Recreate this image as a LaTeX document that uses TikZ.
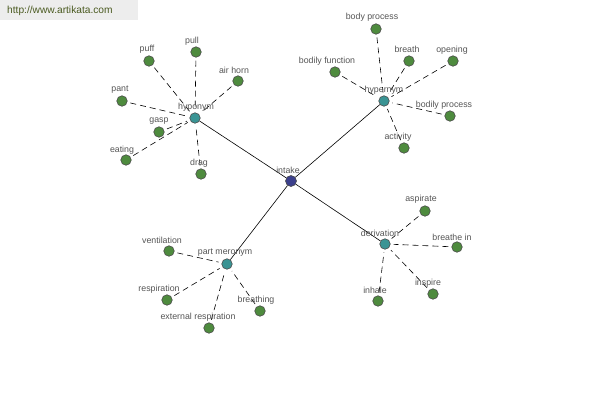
\documentclass[tikz,border=0pt]{standalone}
\usepackage{fontspec}
\setmainfont{Liberation Sans}
\begin{document}
\begin{tikzpicture}[x=1pt,y=-1pt,
  leaf/.style={circle,draw=black!70,fill=leafgreen,minimum size=10.5pt,inner sep=0pt,line width=0.6pt},
  hub/.style={circle,draw=black!70,fill=hubteal,minimum size=10.5pt,inner sep=0pt,line width=0.6pt},
  core/.style={circle,draw=black!70,fill=coreblue,minimum size=11pt,inner sep=0pt,line width=0.6pt},
  lbl/.style={font=\fontsize{8.8}{9}\selectfont,text=labelgray,inner sep=0pt},
  solidlink/.style={draw=black,line width=0.6pt},
  dashlink/.style={draw=black,line width=0.6pt,dash pattern=on 6pt off 4pt,shorten <=3pt,shorten >=3pt}]
\definecolor{leafgreen}{HTML}{4E8B3E}
\definecolor{hubteal}{HTML}{3A9494}
\definecolor{coreblue}{HTML}{3B3F8C}
\definecolor{labelgray}{HTML}{555555}
\definecolor{wmbg}{HTML}{EDEDED}
\definecolor{wmtext}{HTML}{4A5A20}
\useasboundingbox[fill=white] (0,0) rectangle (600,400);
\fill[wmbg] (0,0) rectangle (138,20);
\node[anchor=west,font=\fontsize{10.2}{11}\selectfont,text=wmtext,inner sep=0pt] (wm) at (7,10.5) {http://www.artikata.com};
% hubs
\node[core] (intake) at (291,181) {};
\node[hub] (hypo) at (195,118) {};
\node[hub] (hyper) at (384,101) {};
\node[hub] (deriv) at (385,244) {};
\node[hub] (part) at (227,264) {};
% leaves
\node[leaf] (puff) at (149,61) {};
\node[leaf] (pull) at (196,52) {};
\node[leaf] (airhorn) at (238,81) {};
\node[leaf] (pant) at (122,101) {};
\node[leaf] (gasp) at (159,132) {};
\node[leaf] (eating) at (126,160) {};
\node[leaf] (drag) at (201,174) {};
\node[leaf] (bodyproc) at (376,29) {};
\node[leaf] (breath) at (409,61) {};
\node[leaf] (opening) at (453,61) {};
\node[leaf] (bodfunc) at (335,72) {};
\node[leaf] (bodproc) at (450,116) {};
\node[leaf] (activity) at (404,148) {};
\node[leaf] (aspirate) at (425,211) {};
\node[leaf] (breathein) at (457,247) {};
\node[leaf] (inhale) at (378,301) {};
\node[leaf] (inspire) at (433,294) {};
\node[leaf] (ventil) at (169,251) {};
\node[leaf] (resp) at (167,300) {};
\node[leaf] (extresp) at (209,328) {};
\node[leaf] (breathing) at (260,311) {};
% links
\draw[solidlink] (intake) -- (hypo);
\draw[solidlink] (intake) -- (hyper);
\draw[solidlink] (intake) -- (deriv);
\draw[solidlink] (intake) -- (part);
\foreach \l in {puff,pull,airhorn,pant,gasp,eating,drag} \draw[dashlink] (\l) -- (hypo);
\foreach \l in {bodyproc,breath,opening,bodfunc,bodproc,activity} \draw[dashlink] (\l) -- (hyper);
\foreach \l in {aspirate,breathein,inhale,inspire} \draw[dashlink] (\l) -- (deriv);
\foreach \l in {ventil,resp,extresp,breathing} \draw[dashlink] (\l) -- (part);
% labels
\node[lbl] (t-intake) at (288,170) {intake};
\node[lbl] (t-hypo) at (196,107) {hyponym};
\node[lbl] (t-hyper) at (384,90) {hypernym};
\node[lbl] (t-deriv) at (380,233) {derivation};
\node[lbl] (t-part) at (225,253) {part meronym};
\node[lbl] (t-puff) at (147,49) {puff};
\node[lbl] (t-pull) at (192,41) {pull};
\node[lbl] (t-airhorn) at (234,70) {air horn};
\node[lbl] (t-pant) at (120,90) {pant};
\node[lbl] (t-gasp) at (159,121) {gasp};
\node[lbl] (t-eating) at (122,150) {eating};
\node[lbl] (t-drag) at (199,163) {drag};
\node[lbl] (t-bodyproc) at (372,17) {body process};
\node[lbl] (t-breath) at (407,49) {breath};
\node[lbl] (t-opening) at (452,50) {opening};
\node[lbl] (t-bodfunc) at (327,61) {bodily function};
\node[lbl] (t-bodproc) at (444,105) {bodily process};
\node[lbl] (t-activity) at (398,137) {activity};
\node[lbl] (t-aspirate) at (421,199) {aspirate};
\node[lbl] (t-breathein) at (452,237) {breathe in};
\node[lbl] (t-inhale) at (375,290) {inhale};
\node[lbl] (t-inspire) at (428,283) {inspire};
\node[lbl] (t-ventil) at (162,240) {ventilation};
\node[lbl] (t-resp) at (159,289) {respiration};
\node[lbl] (t-extresp) at (198,317) {external respiration};
\node[lbl] (t-breathing) at (256,300) {breathing};
\end{tikzpicture}
\end{document}
